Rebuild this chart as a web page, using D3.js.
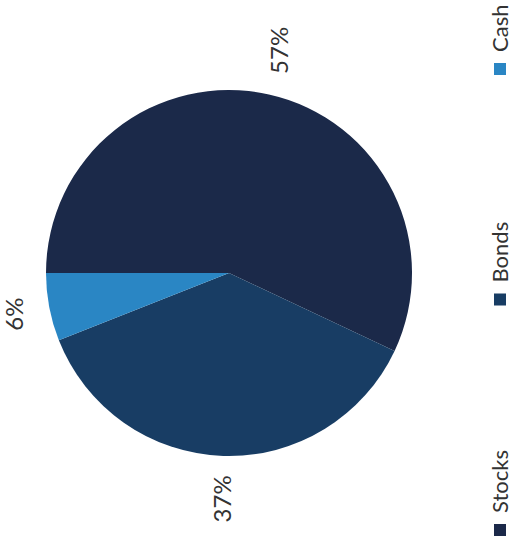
<!DOCTYPE html>
<html>
<head>
<meta charset="utf-8">
<script src="https://cdn.jsdelivr.net/npm/d3@7"></script>
<style>
  html, body { margin: 0; padding: 0; background: #ffffff; }
  svg { display: block; }
  text { font-family: Lato, "Open Sans", sans-serif; fill: #333333; }
</style>
</head>
<body>
<script>
// Asset allocation
const categories = ["Stocks", "Bonds", "Cash"];
const shares = [57, 37, 6];
const sliceLabels = ["57%", "37%", "6%"];
const colors = ["#1b2949", "#183d64", "#2a86c4"];

const W = 514, H = 550;
const cx = 229, cy = 273, r = 183;

const svg = d3.select("body").append("svg")
  .attr("width", W).attr("height", H);

const color = d3.scaleOrdinal().domain(categories).range(colors);

// Whole chart is laid out turned a quarter-turn counter-clockwise:
// slices start at 9 o'clock and run clockwise.
const pie = d3.pie().sort(null)
  .startAngle(-Math.PI / 2).endAngle(3 * Math.PI / 2)
  .value((d, i) => shares[i]);
const arcs = pie(categories);

const arc = d3.arc().innerRadius(0).outerRadius(r);

const g = svg.append("g").attr("transform", `translate(${cx},${cy})`);
g.selectAll("path.slice").data(arcs).join("path")
  .attr("class", "slice")
  .attr("d", arc)
  .attr("fill", d => color(d.data));

// Outside-end labels, rotated with the chart; each box sits just
// clear of the rim along its slice's middle direction
const pad = 19;
const lab = g.selectAll("g.lab").data(arcs).join("g").attr("class", "lab");
lab.append("text")
  .attr("text-anchor", "middle")
  .attr("dominant-baseline", "central")
  .attr("transform", "rotate(-90)")
  .style("font-size", "24px")
  .text((d, i) => sliceLabels[i]);
lab.each(function(d) {
  const bb = this.getBBox();
  const a = (d.startAngle + d.endAngle) / 2;
  const ux = Math.sin(a), uy = -Math.cos(a);
  const ext = Math.abs(ux) * bb.width / 2 + Math.abs(uy) * bb.height / 2;
  const R = r + pad + ext;
  d3.select(this).attr("transform", `translate(${ux * R},${uy * R})`);
});

// Legend down the right edge, reading bottom to top
const legendY = d3.scalePoint().domain(categories).range([530, 69]);
const sq = 12;
const leg = svg.selectAll("g.legend").data(categories).join("g")
  .attr("class", "legend")
  .attr("transform", d => `translate(0,${legendY(d)})`);
leg.append("rect")
  .attr("x", 494).attr("y", -sq / 2)
  .attr("width", sq).attr("height", sq)
  .attr("fill", d => color(d));
leg.append("text")
  .attr("transform", "translate(508,-17) rotate(-90)")
  .attr("text-anchor", "start")
  .style("font-size", "22px")
  .text(d => d);
</script>
</body>
</html>
